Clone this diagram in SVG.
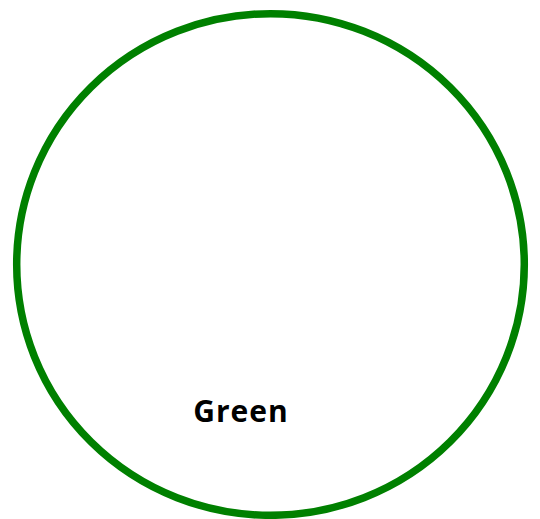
<svg xmlns="http://www.w3.org/2000/svg" width="540" height="519" viewBox="0 0 540 519">
<style>
.c{fill:none;stroke:#008000;stroke-width:7.5}
.t{font-family:"Open Sans","Liberation Sans",sans-serif;font-weight:bold;font-size:30px;letter-spacing:1px;fill:#000}
</style>
<rect width="540" height="519" fill="#fff"/>
<g id="green">
<ellipse class="c" cx="270.5" cy="264.5" rx="253.8" ry="250.8"/>
<text class="t" x="241" y="422" text-anchor="middle">Green</text>
</g>
</svg>
